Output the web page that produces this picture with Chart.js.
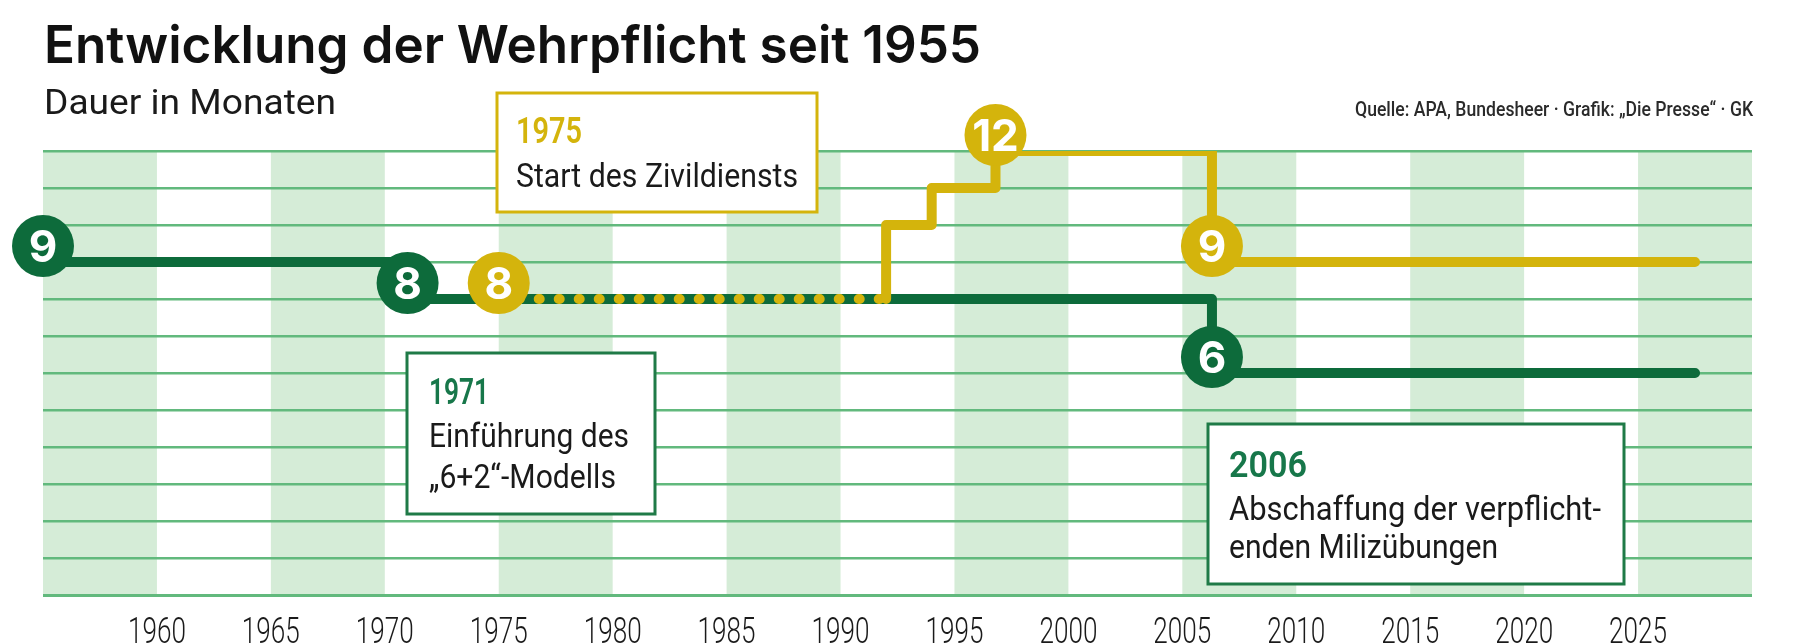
<!DOCTYPE html>
<html>
<head>
<meta charset="utf-8">
<script src="https://cdn.jsdelivr.net/npm/chart.js@4.4.1/dist/chart.umd.min.js"></script>
<style>
  html, body { margin: 0; padding: 0; background: #fff; }
  #wrap { width: 1800px; height: 644px; }
</style>
</head>
<body>
<div id="wrap"><canvas id="chart" width="1800" height="644"></canvas></div>
<script>
// Wehrdienst (green) and Zivildienst (yellow), duration in months
const tickYears = [1960, 1965, 1970, 1975, 1980, 1985, 1990, 1995, 2000, 2005, 2010, 2015, 2020, 2025];
const bandStarts = [1955, 1965, 1975, 1985, 1995, 2005, 2015, 2025];

const greenYears = [1955, 1971, 2006.3, 2027.5];
const greenMonths = [9, 8, 6, 6];
const greenBadges = [0, 1, 2];   // indices that get a number bubble

const yellowYears = [1975, 1992, 1992, 1994, 1996.8, 2006.3, 2027.5];
const yellowMonths = [8, 8, 10, 11, 12, 9, 9];
const yellowBadges = [0, 4, 5];

const GREEN = '#0d6b3b';
const YELLOW = '#d4b40c';
const GRID = '#62b97d';
const BAND = '#d5ecd7';

const toPoints = (xs, ys) => xs.map((x, i) => ({ x: x, y: ys[i] }));

// draws text squeezed/stretched to a given width (the original uses a condensed face)
const fitText = (ctx, text, x, y, font, color, width, align) => {
    ctx.save();
    ctx.font = font;
    ctx.fillStyle = color;
    ctx.textAlign = 'left';
    ctx.textBaseline = 'alphabetic';
    const w = ctx.measureText(text).width;
    const sx = width ? width / w : 1;
    let x0 = x;
    if (align === 'right') x0 = x - w * sx;
    if (align === 'center') x0 = x - w * sx / 2;
    ctx.translate(x0, y);
    ctx.scale(sx, 1);
    ctx.fillText(text, 0, 0);
    ctx.restore();
};

const noteBox = (ctx, x, y, w, h, color) => {
    ctx.save();
    ctx.fillStyle = '#fff';
    ctx.fillRect(x, y, w, h);
    ctx.strokeStyle = color;
    ctx.lineWidth = 3;
    ctx.strokeRect(x, y, w, h);
    ctx.restore();
};

const pressePlugin = {
    id: 'presse',
    beforeDraw(chart) {
        const { ctx, chartArea, scales } = chart;
        ctx.save();
        ctx.fillStyle = '#fff';
        ctx.fillRect(0, 0, chart.width, chart.height);
        // alternating year bands
        ctx.fillStyle = BAND;
        bandStarts.forEach(s => {
            const x0 = scales.x.getPixelForValue(s);
            const x1 = scales.x.getPixelForValue(s + 5);
            ctx.fillRect(x0, chartArea.top, x1 - x0, chartArea.bottom - chartArea.top);
        });
        ctx.restore();
    },
    afterDraw(chart) {
        const { ctx, scales } = chart;

        // headings
        fitText(ctx, 'Entwicklung der Wehrpflicht seit 1955', 44, 63, '600 52px Inter', '#111', 937);
        fitText(ctx, 'Dauer in Monaten', 44, 114, '400 35px Roboto', '#1a1a1a', 292);
        fitText(ctx, 'Quelle: APA, Bundesheer · Grafik: „Die Presse“ · GK', 1753, 116, '500 20px Roboto', '#2a2a2a', 398, 'right');

        // year labels under the axis (condensed, as in the original)
        scales.x.ticks.forEach(t => {
            fitText(ctx, String(t.value), scales.x.getPixelForValue(t.value), 643, '300 37px Roboto', '#1a1a1a', 58, 'center');
        });

        // annotations
        noteBox(ctx, 497, 93, 320, 119, YELLOW);
        fitText(ctx, '1975', 516, 143, '600 37px Roboto', YELLOW, 66);
        fitText(ctx, 'Start des Zivildiensts', 516, 187, '400 34px Roboto', '#1a1a1a', 282);

        noteBox(ctx, 407, 353, 248, 161, '#1f7a47');
        fitText(ctx, '1971', 429, 404, '600 37px Roboto', '#17774a', 60);
        fitText(ctx, 'Einführung des', 429, 447, '400 34px Roboto', '#1a1a1a', 200);
        fitText(ctx, '„6+2“-Modells', 429, 488, '400 34px Roboto', '#1a1a1a', 187);

        noteBox(ctx, 1208, 424, 416, 160, '#1f7a47');
        fitText(ctx, '2006', 1229, 477, '600 37px Roboto', '#17774a', 78);
        fitText(ctx, 'Abschaffung der verpflicht-', 1229, 520, '400 34px Roboto', '#1a1a1a', 372);
        fitText(ctx, 'enden Milizübungen', 1229, 558, '400 34px Roboto', '#1a1a1a', 269);

        // number bubbles at the changes
        const bubble = (year, value, color) => {
            const cx = scales.x.getPixelForValue(year);
            const cy = scales.y.getPixelForValue(value) - 16;
            ctx.save();
            ctx.beginPath();
            ctx.arc(cx, cy, 31, 0, Math.PI * 2);
            ctx.fillStyle = color;
            ctx.fill();
            ctx.fillStyle = '#fff';
            ctx.font = '700 44px Inter';
            ctx.textAlign = 'center';
            ctx.textBaseline = 'alphabetic';
            ctx.fillText(String(value), cx, cy + 16);
            ctx.restore();
        };
        greenBadges.forEach(i => bubble(greenYears[i], greenMonths[i], GREEN));
        yellowBadges.forEach(i => bubble(yellowYears[i], yellowMonths[i], YELLOW));
    }
};

new Chart(document.getElementById('chart'), {
    type: 'line',
    data: {
        datasets: [{
            label: 'Wehrdienst',
            data: toPoints(greenYears, greenMonths),
            order: 2,   // drawn underneath the yellow line
            borderColor: GREEN,
            borderWidth: 10,
            stepped: 'before',
            borderCapStyle: 'round',
            borderJoinStyle: 'round',
            pointRadius: 0,
            fill: false
        }, {
            label: 'Zivildienst',
            data: toPoints(yellowYears, yellowMonths),
            order: 1,
            borderColor: YELLOW,
            borderWidth: 10,
            stepped: 'before',
            borderCapStyle: 'round',
            borderJoinStyle: 'round',
            pointRadius: 0,
            fill: false,
            segment: {
                borderDash: c => c.p0DataIndex === 0 ? [1, 19] : [],
                borderCapStyle: 'round'
            }
        }]
    },
    options: {
        responsive: false,
        animation: false,
        devicePixelRatio: 1,
        layout: { padding: { left: 43, right: 48, top: 151, bottom: 0 } },
        plugins: {
            legend: { display: false },
            tooltip: { enabled: false }
        },
        scales: {
            x: {
                type: 'linear',
                min: 1955,
                max: 2030,
                afterBuildTicks: scale => { scale.ticks = tickYears.map(v => ({ value: v })); },
                afterFit: scale => { scale.height = 49; },
                grid: { display: false, drawTicks: false },
                border: { display: false },
                ticks: { display: false, autoSkip: false }
            },
            y: {
                min: 0,
                max: 12,
                afterFit: scale => { scale.width = 0; },
                ticks: { display: false, stepSize: 1 },
                grid: {
                    color: GRID,
                    lineWidth: c => c.tick && c.tick.value === 0 ? 3 : 2.5,
                    drawTicks: false
                },
                border: { display: false }
            }
        }
    },
    plugins: [pressePlugin]
});
</script>
</body>
</html>
